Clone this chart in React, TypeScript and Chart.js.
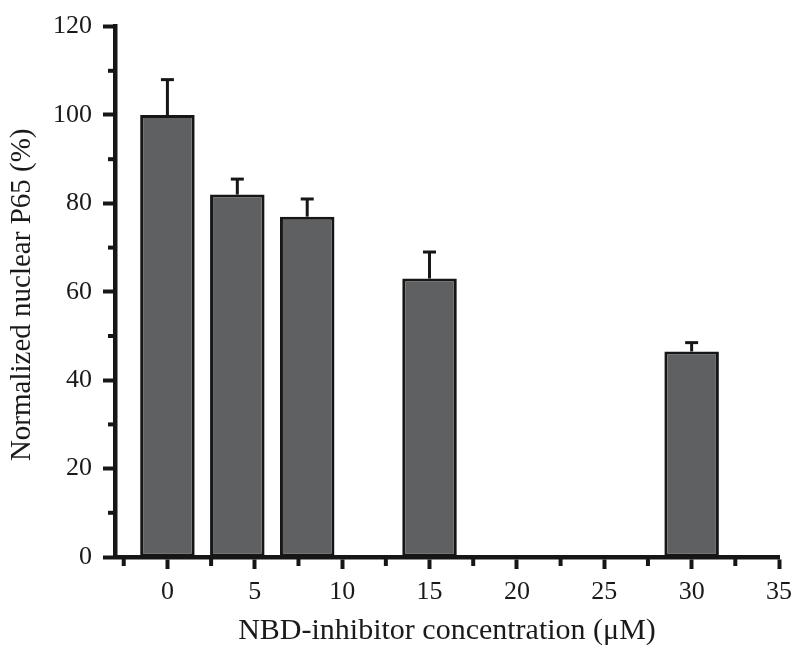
import React, { useEffect, useRef } from 'react';
import { Chart, registerables } from 'chart.js';

Chart.register(...registerables);

// Data
const concentrations = [0, 4, 8, 15, 30];
const p65Values = [100, 82, 77, 63, 46.5];
const p65Errors = [8, 3.5, 4, 6, 2];

const xTickValues = [0, 5, 10, 15, 20, 25, 30, 35];
const xMinorTicks = [-2.5, 2.5, 7.5, 12.5, 17.5, 22.5, 27.5, 32.5];
const yTickValues = [0, 20, 40, 60, 80, 100, 120];
const yMinorTicks = [10, 30, 50, 70, 90, 110];

const xTitle = 'NBD-inhibitor concentration (μM)';
const yTitle = 'Normalized nuclear P65 (%)';

const FONT = "'Liberation Serif', 'Times New Roman', serif";
const INK = '#161616';
const TEXT = '#1a1a1a';

export default function App() {
  const ref = useRef<HTMLCanvasElement>(null);

  useEffect(() => {
    const canvas = ref.current;
    if (!canvas) return;

    const errorBars = {
      id: 'errorBars',
      afterDatasetsDraw(chart: any) {
        const meta = chart.getDatasetMeta(0);
        const yScale = chart.scales.y;
        const ctx = chart.ctx;
        ctx.save();
        ctx.strokeStyle = INK;
        ctx.lineWidth = 3;
        ctx.lineCap = 'butt';
        meta.data.forEach((el: any, i: number) => {
          const x = el.x;
          const yTop = yScale.getPixelForValue(p65Values[i]);
          const yErr = yScale.getPixelForValue(p65Values[i] + p65Errors[i]);
          ctx.beginPath();
          ctx.moveTo(x, yTop);
          ctx.lineTo(x, yErr);
          ctx.stroke();
          ctx.beginPath();
          ctx.moveTo(x - 6.5, yErr);
          ctx.lineTo(x + 6.5, yErr);
          ctx.stroke();
        });
        ctx.restore();
      },
    };

    const minorTicks = {
      id: 'minorTicks',
      afterDraw(chart: any) {
        const { ctx, chartArea } = chart;
        const xs = chart.scales.x;
        const ys = chart.scales.y;
        ctx.save();
        ctx.strokeStyle = INK;
        ctx.lineWidth = 4;
        xMinorTicks.forEach((v) => {
          const px = xs.getPixelForValue(v);
          ctx.beginPath();
          ctx.moveTo(px, chartArea.bottom);
          ctx.lineTo(px, chartArea.bottom + 9);
          ctx.stroke();
        });
        yMinorTicks.forEach((v) => {
          const py = ys.getPixelForValue(v);
          ctx.beginPath();
          ctx.moveTo(chartArea.left - 7, py);
          ctx.lineTo(chartArea.left, py);
          ctx.stroke();
        });
        ctx.restore();
      },
    };

    const yTitlePlugin = {
      id: 'yTitle',
      afterDraw(chart: any) {
        const { ctx, chartArea } = chart;
        const cy = (chartArea.top + chartArea.bottom) / 2 + 3;
        ctx.save();
        ctx.translate(30, cy);
        ctx.rotate(-Math.PI / 2);
        ctx.font = `29px ${FONT}`;
        ctx.fillStyle = TEXT;
        ctx.textAlign = 'center';
        ctx.textBaseline = 'alphabetic';
        ctx.fillText(yTitle, 0, 0);
        ctx.restore();
      },
    };

    const chart = new Chart(canvas, {
      type: 'bar',
      data: {
        datasets: [
          {
            data: concentrations.map((x, i) => ({ x, y: p65Values[i] })),
            backgroundColor: '#5f6062',
            borderColor: INK,
            borderWidth: 3,
            borderSkipped: false,
            barPercentage: 0.78,
            categoryPercentage: 1,
          },
        ],
      },
      options: {
        animation: false,
        responsive: false,
        layout: { padding: { top: 20, right: 21, left: 0, bottom: 0 } },
        plugins: {
          legend: { display: false },
          tooltip: { enabled: false },
        },
        scales: {
          x: {
            type: 'linear',
            min: -3,
            max: 35,
            offset: false,
            afterBuildTicks: (s: any) => {
              s.ticks = xTickValues.map((v) => ({ value: v }));
            },
            afterFit: (s: any) => {
              s.height = 101;
            },
            grid: {
              display: true,
              drawOnChartArea: false,
              offset: false,
              tickLength: 12,
              tickWidth: 4,
              tickColor: INK,
            },
            border: { display: true, width: 4.5, color: INK },
            ticks: {
              font: { family: FONT, size: 26 },
              color: TEXT,
              padding: 8,
              maxRotation: 0,
              autoSkip: false,
            },
            title: {
              display: true,
              text: xTitle,
              font: { family: FONT, size: 30 },
              color: TEXT,
              padding: { top: 0, bottom: 9 },
            },
          },
          y: {
            type: 'linear',
            min: 0,
            max: 120,
            afterBuildTicks: (s: any) => {
              s.ticks = yTickValues.map((v) => ({ value: v }));
            },
            afterFit: (s: any) => {
              s.width = 115;
            },
            grid: {
              display: true,
              drawOnChartArea: false,
              tickLength: 12,
              tickWidth: 4,
              tickColor: INK,
            },
            border: { display: true, width: 4.5, color: INK },
            ticks: {
              font: { family: FONT, size: 26 },
              color: TEXT,
              padding: 11,
            },
          },
        },
      } as any,
      plugins: [errorBars, minorTicks, yTitlePlugin],
    });

    return () => chart.destroy();
  }, []);

  return (
    <div style={{ position: 'fixed', left: 0, top: 0, width: 800, height: 658, background: '#fff' }}>
      <canvas ref={ref} width={800} height={658} style={{ display: 'block' }} />
    </div>
  );
}
